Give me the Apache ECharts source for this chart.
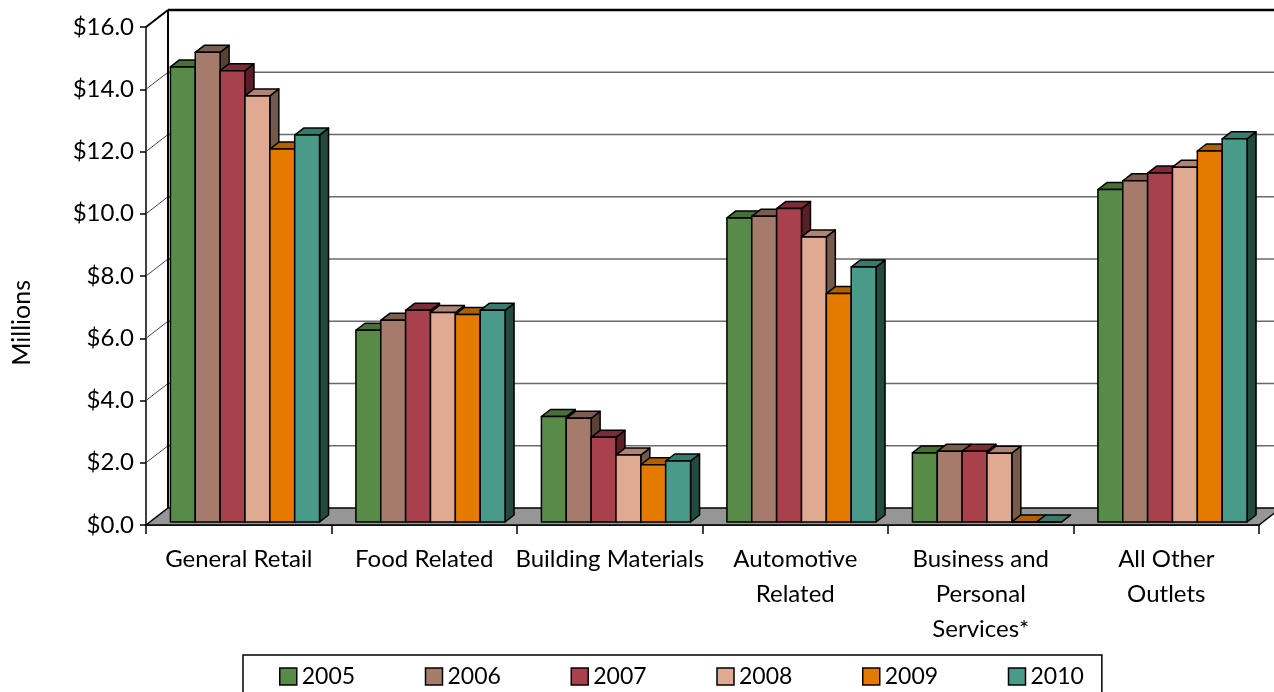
<!DOCTYPE html>
<html>
<head>
<meta charset="utf-8">
<script src="https://cdn.jsdelivr.net/npm/echarts@6/dist/echarts.min.js"></script>
<style>
  html, body { margin: 0; padding: 0; background: #fff; }
  #chart { width: 1274px; height: 692px; }
</style>
</head>
<body>
<div id="chart"></div>
<script>
// categories and values (millions of dollars)
const categories = ['General Retail', 'Food Related', 'Building Materials', 'Automotive\nRelated', 'Business and\nPersonal\nServices*', 'All Other\nOutlets'];
const years = ['2005', '2006', '2007', '2008', '2009', '2010'];
const v2005 = [14.62, 6.16, 3.39, 9.77, 2.22, 10.68];
const v2006 = [15.09, 6.48, 3.33, 9.82, 2.27, 10.96];
const v2007 = [14.50, 6.80, 2.72, 10.07, 2.27, 11.21];
const v2008 = [13.69, 6.73, 2.15, 9.16, 2.21, 11.40];
const v2009 = [11.98, 6.67, 1.84, 7.34, 0, 11.92];
const v2010 = [12.43, 6.80, 1.96, 8.19, 0, 12.31];
const yTicks = [0, 2, 4, 6, 8, 10, 12, 14, 16];

const seriesValues = [v2005, v2006, v2007, v2008, v2009, v2010];
const frontColors = ['#588a48', '#a57b6b', '#a9414c', '#dfa992', '#e57a00', '#4a9a89'];
const topColors = ['#467038', '#7c5c4e', '#7a2d36', '#b08472', '#b35f00', '#3a7a6c'];
const sideColors = ['#2c4a24', '#5a4136', '#5a1e26', '#735a4c', '#8a4a00', '#244a40'];

const FONT = 'Lato';
// depth of the wall box and of the bars
const WALL_DX = 22, WALL_DY = -17;
const BAR_FX = 4, BAR_FY = -3;
const BAR_DX = 9, BAR_DY = -7;

const LEGEND_FONT = 23;
const LEGEND_STEP = 145;

function textWidth(str, size) {
  const ctx = document.createElement('canvas').getContext('2d');
  ctx.font = size + 'px ' + FONT;
  return ctx.measureText(str).width;
}

const chart = echarts.init(document.getElementById('chart'), null, { renderer: 'canvas' });

function barRenderer(k) {
  return function (params, api) {
    const ci = api.value(0);
    const val = api.value(1);
    const band = api.size([1, 0])[0];
    const base = api.coord([ci, 0]);
    const topPt = api.coord([ci, val]);
    const bw = band * 0.134;
    const L = base[0] - band / 2 + band * 0.11 + k * bw + BAR_FX;
    const R = L + bw;
    const B = base[1] + BAR_FY;
    const T = topPt[1] + BAR_FY;
    const stroke = { stroke: '#000', lineWidth: 1.5, lineJoin: 'round' };
    return {
      type: 'group',
      children: [
        { type: 'polygon', shape: { points: [[R, T], [R + BAR_DX, T + BAR_DY], [R + BAR_DX, B + BAR_DY], [R, B]] },
          style: Object.assign({ fill: sideColors[k] }, stroke) },
        { type: 'polygon', shape: { points: [[L, T], [R, T], [R + BAR_DX, T + BAR_DY], [L + BAR_DX, T + BAR_DY]] },
          style: Object.assign({ fill: topColors[k] }, stroke) },
        { type: 'rect', shape: { x: L, y: T, width: bw, height: B - T },
          style: Object.assign({ fill: frontColors[k] }, stroke) }
      ]
    };
  };
}

function wallRenderer(params, api) {
  const v = api.value(1);
  const cs = params.coordSys;
  const y = api.coord([0, v])[1];
  const x0 = cs.x, x1 = cs.x + cs.width;
  const children = [];
  if (v === 0) {
    children.push({ type: 'polygon',
      shape: { points: [[x0, y], [x1, y], [x1 + WALL_DX, y + WALL_DY], [x0 + WALL_DX, y + WALL_DY]] },
      style: { fill: '#969696', stroke: '#000', lineWidth: 1.5 } });
    return { type: 'group', children: children };
  }
  const top = v === 16;
  children.push({ type: 'line',
    shape: { x1: x0 + WALL_DX, y1: y + WALL_DY, x2: x1 + WALL_DX, y2: y + WALL_DY },
    style: { stroke: top ? '#000' : '#6a6a6a', lineWidth: top ? 2.5 : 1.5 } });
  children.push({ type: 'line',
    shape: { x1: x0, y1: y, x2: x0 + WALL_DX, y2: y + WALL_DY },
    style: { stroke: top ? '#000' : '#444', lineWidth: top ? 2 : 1 } });
  if (top) {
    const y0 = api.coord([0, 0])[1];
    children.push({ type: 'line',
      shape: { x1: x0 + WALL_DX, y1: y + WALL_DY, x2: x0 + WALL_DX, y2: y0 + WALL_DY },
      style: { stroke: '#000', lineWidth: 2 } });
  }
  return { type: 'group', children: children };
}

const barSeries = years.map((yr, k) => ({
  name: yr,
  type: 'custom',
  z: 3,
  silent: true,
  itemStyle: { color: frontColors[k] },
  renderItem: barRenderer(k),
  data: seriesValues[k].map((v, i) => [i, v])
}));

const legendText = textWidth('2005', LEGEND_FONT);

const option = {
  animation: false,
  textStyle: { fontFamily: FONT, color: '#000' },
  grid: { left: 146, right: 15, top: 27, bottom: 167, outerBoundsMode: 'none', containLabel: false },
  legend: {
    data: years,
    left: 243,
    top: 655,
    orient: 'horizontal',
    icon: 'rect',
    itemWidth: 17,
    itemHeight: 17,
    itemGap: LEGEND_STEP - 17 - 5 - legendText,
    padding: [10, 18, 20, 36],
    borderColor: '#000',
    borderWidth: 1.5,
    borderRadius: 0,
    itemStyle: { borderColor: '#000', borderWidth: 1.5 },
    textStyle: { fontFamily: FONT, fontSize: LEGEND_FONT, color: '#000' }
  },
  graphic: [{
    type: 'text',
    left: 9,
    top: 280,
    rotation: Math.PI / 2,
    style: { text: 'Millions', font: '25px ' + FONT, fill: '#000' }
  }],
  xAxis: {
    type: 'category',
    data: categories,
    axisLine: { lineStyle: { color: '#000', width: 1.5 } },
    axisTick: { show: true, length: 9, lineStyle: { color: '#000', width: 1.5 } },
    axisLabel: { fontFamily: FONT, fontSize: 24, color: '#000', margin: 17, lineHeight: 35, interval: 0 },
    splitLine: { show: false }
  },
  yAxis: {
    type: 'value',
    min: 0,
    max: 16,
    interval: 2,
    axisLine: { show: true, lineStyle: { color: '#000', width: 1.5 } },
    axisTick: { show: true, length: 6, lineStyle: { color: '#000', width: 1.5 } },
    axisLabel: { fontFamily: FONT, fontSize: 24, color: '#000', margin: 12, formatter: v => '$' + v.toFixed(1) },
    splitLine: { show: false }
  },
  series: barSeries.concat([{
    name: 'walls',
    type: 'custom',
    z: 1,
    silent: true,
    renderItem: wallRenderer,
    data: yTicks.map(v => [0, v])
  }])
};

chart.setOption(option);
</script>
</body>
</html>
